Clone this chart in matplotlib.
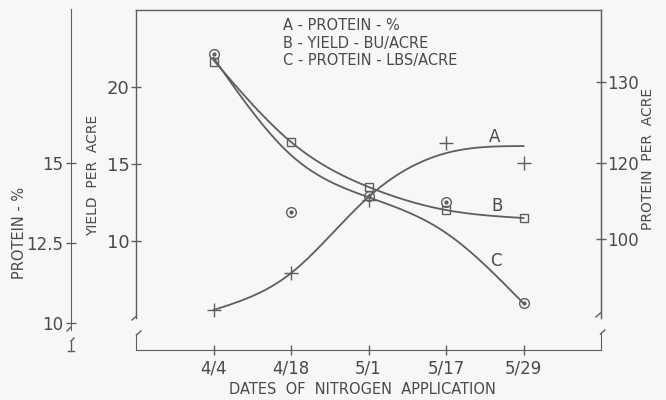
import numpy as np
import matplotlib
matplotlib.use("Agg")
import matplotlib.pyplot as plt
from matplotlib.lines import Line2D

# ---------------- data ----------------
dates = ["4/4", "4/18", "5/1", "5/17", "5/29"]
# A: protein % (plus markers) and smoothed curve values
protein_pct_points = [10.41, 11.56, 13.84, 15.63, 15.00]
protein_pct_curve = [10.41, 11.56, 13.94, 15.31, 15.53]
# B: yield bu/acre (squares) and curve
yield_points = [21.62, 16.43, 13.51, 12.01, 11.49]
yield_curve = [21.75, 16.43, 13.51, 12.01, 11.49]
# C: protein lbs/acre (dotted circles) and curve
protein_lbs_points = [133.5, 114.0, 115.9, 115.2, 102.7]
protein_lbs_curve = [133.0, 121.0, 115.8, 111.4, 102.7]

yield_ticks = [10, 15, 20]
pct_ticks = [10, 12.5, 15]
pct_ticklabels = ["10", "12.5", "15"]
right_tick_pos = [110.7, 120, 130]
right_ticklabels = ["100", "120", "130"]

legend_lines = ["A - PROTEIN - %", "B - YIELD - BU/ACRE", "C - PROTEIN - LBS/ACRE"]

# ---------------- style ----------------
W, H = 666, 400
BG = "#f7f7f7"
LC = "#5e5e5e"
TC = "#4a4a4a"
plt.rcParams['font.family'] = ['DejaVu Sans']

fig = plt.figure(figsize=(W / 100, H / 100), dpi=100, facecolor=BG)


def rect(x0, y0, x1, y1):
    return [x0 / W, 1 - y1 / H, (x1 - x0) / W, (y1 - y0) / H]


def spline(x, y, xs):
    x = np.asarray(x, float)
    y = np.asarray(y, float)
    n = len(x)
    h = np.diff(x)
    A = np.zeros((n, n))
    r = np.zeros(n)
    A[0, 0] = A[-1, -1] = 1
    for i in range(1, n - 1):
        A[i, i - 1] = h[i - 1]
        A[i, i] = 2 * (h[i - 1] + h[i])
        A[i, i + 1] = h[i]
        r[i] = 3 * ((y[i + 1] - y[i]) / h[i] - (y[i] - y[i - 1]) / h[i - 1])
    c = np.linalg.solve(A, r)
    b = (y[1:] - y[:-1]) / h - h * (2 * c[:-1] + c[1:]) / 3
    d = (c[1:] - c[:-1]) / (3 * h)
    idx = np.clip(np.searchsorted(x, xs) - 1, 0, n - 2)
    dx = xs - x[idx]
    return y[idx] + b[idx] * dx + c[idx] * dx ** 2 + d[idx] * dx ** 3


xi = np.arange(len(dates))
xs = np.linspace(0, len(dates) - 1, 300)

# main axes (yield on left spine)
ax = fig.add_axes(rect(136, 10, 601, 318))
ax.set_facecolor("none")
ax.set_xlim(-1, 5)
ax.set_ylim(5, 25)
for s in ["top", "left", "right"]:
    ax.spines[s].set_color(LC)
    ax.spines[s].set_linewidth(1.0)
ax.spines["bottom"].set_visible(False)
ax.set_xticks([])
ax.set_yticks(yield_ticks)
ax.tick_params(axis="y", direction="inout", length=7, width=1, colors=LC,
               labelcolor=TC, labelsize=13, pad=1)

# right axis (protein per acre)
axR = ax.twinx()
axR.set_ylim(100.9, 138.9)
for s in ["top", "left", "bottom"]:
    axR.spines[s].set_visible(False)
axR.spines["right"].set_color(LC)
axR.set_yticks(right_tick_pos)
axR.set_yticklabels(right_ticklabels)
axR.tick_params(axis="y", direction="inout", length=7, width=1, colors=LC,
                labelcolor=TC, labelsize=12, pad=1)

# hidden axis for protein %
axA = ax.twinx()
axA.set_ylim(10.16, 19.78)
axA.axis("off")

# protein % standalone axis
axP = fig.add_axes(rect(71, 9, 72, 330))
axP.set_facecolor("none")
axP.set_ylim(9.78, 19.81)
for s in ["top", "right", "bottom"]:
    axP.spines[s].set_visible(False)
axP.spines["left"].set_color(LC)
axP.set_xticks([])
axP.set_yticks(pct_ticks)
axP.set_yticklabels(pct_ticklabels)
axP.tick_params(axis="y", direction="inout", length=7, width=1, colors=LC,
                labelcolor=TC, labelsize=12, pad=2)

# bottom date axis
axX = fig.add_axes(rect(136, 334, 601, 350))
axX.set_facecolor("none")
axX.set_xlim(-1, 5)
axX.spines["top"].set_visible(False)
for s in ["left", "right", "bottom"]:
    axX.spines[s].set_color(LC)
axX.set_yticks([])
axX.set_xticks(xi)
axX.set_xticklabels(dates)
axX.tick_params(axis="x", direction="inout", length=7, width=1, colors=LC,
                labelcolor=TC, labelsize=12, pad=3)

# ---------------- curves ----------------
lw = 1.3
axA.plot(xs, spline(xi, protein_pct_curve, xs), color=LC, lw=lw)
axA.plot(xi, protein_pct_points, linestyle="none", marker="+", ms=10, mew=1.0, color=LC)

ax.plot(xs, spline(xi, yield_curve, xs), color=LC, lw=lw)
ax.plot(xi, yield_points, linestyle="none", marker="s", ms=5.5, mew=1.0,
        mfc="none", mec=LC)

axR.plot(xs, spline(xi, protein_lbs_curve, xs), color=LC, lw=lw)
axR.plot(xi, protein_lbs_points, linestyle="none", marker="o", ms=7, mew=1.0,
         mfc="none", mec=LC)
axR.plot(xi, protein_lbs_points, linestyle="none", marker="o", ms=2, color=LC)

# curve letters
axA.text(3.63, 15.81, "A", fontsize=12, color=TC, ha="center", va="center")
ax.text(3.66, 12.27, "B", fontsize=12, color=TC, ha="center", va="center")
axR.text(3.64, 107.9, "C", fontsize=12, color=TC, ha="center", va="center")

# legend text
for i, t in enumerate(legend_lines):
    fig.text(283 / W, 1 - (26 + 17.5 * i) / H, t, fontsize=10.5, color=TC,
             ha="left", va="center")

# axis labels
fig.text(20 / W, 1 - 233 / H, "PROTEIN - %", rotation=90, fontsize=10.5,
         color=TC, ha="center", va="center")
fig.text(93 / W, 1 - 175 / H, "YIELD  PER  ACRE", rotation=90, fontsize=10,
         color=TC, ha="center", va="center")
fig.text(648 / W, 1 - 159 / H, "PROTEIN  PER  ACRE", rotation=90, fontsize=10,
         color=TC, ha="center", va="center")
fig.text(362 / W, 1 - 389 / H, "DATES  OF  NITROGEN  APPLICATION", fontsize=10.5,
         color=TC, ha="center", va="center")


# break marks
def seg(p, q):
    fig.add_artist(Line2D([p[0] / W, q[0] / W], [1 - p[1] / H, 1 - q[1] / H],
                          transform=fig.transFigure, color=LC, lw=1.0))


seg((136.5, 316), (132, 320))
seg((136.5, 335), (141, 331))
seg((600.5, 313), (596, 317))
seg((600.5, 334), (605, 330))
seg((71, 327), (67, 331))
seg((71, 341), (71, 351))
seg((71, 341), (74, 338))
seg((68, 351), (74, 351))

fig.savefig("out.png", dpi=100, facecolor=BG)
